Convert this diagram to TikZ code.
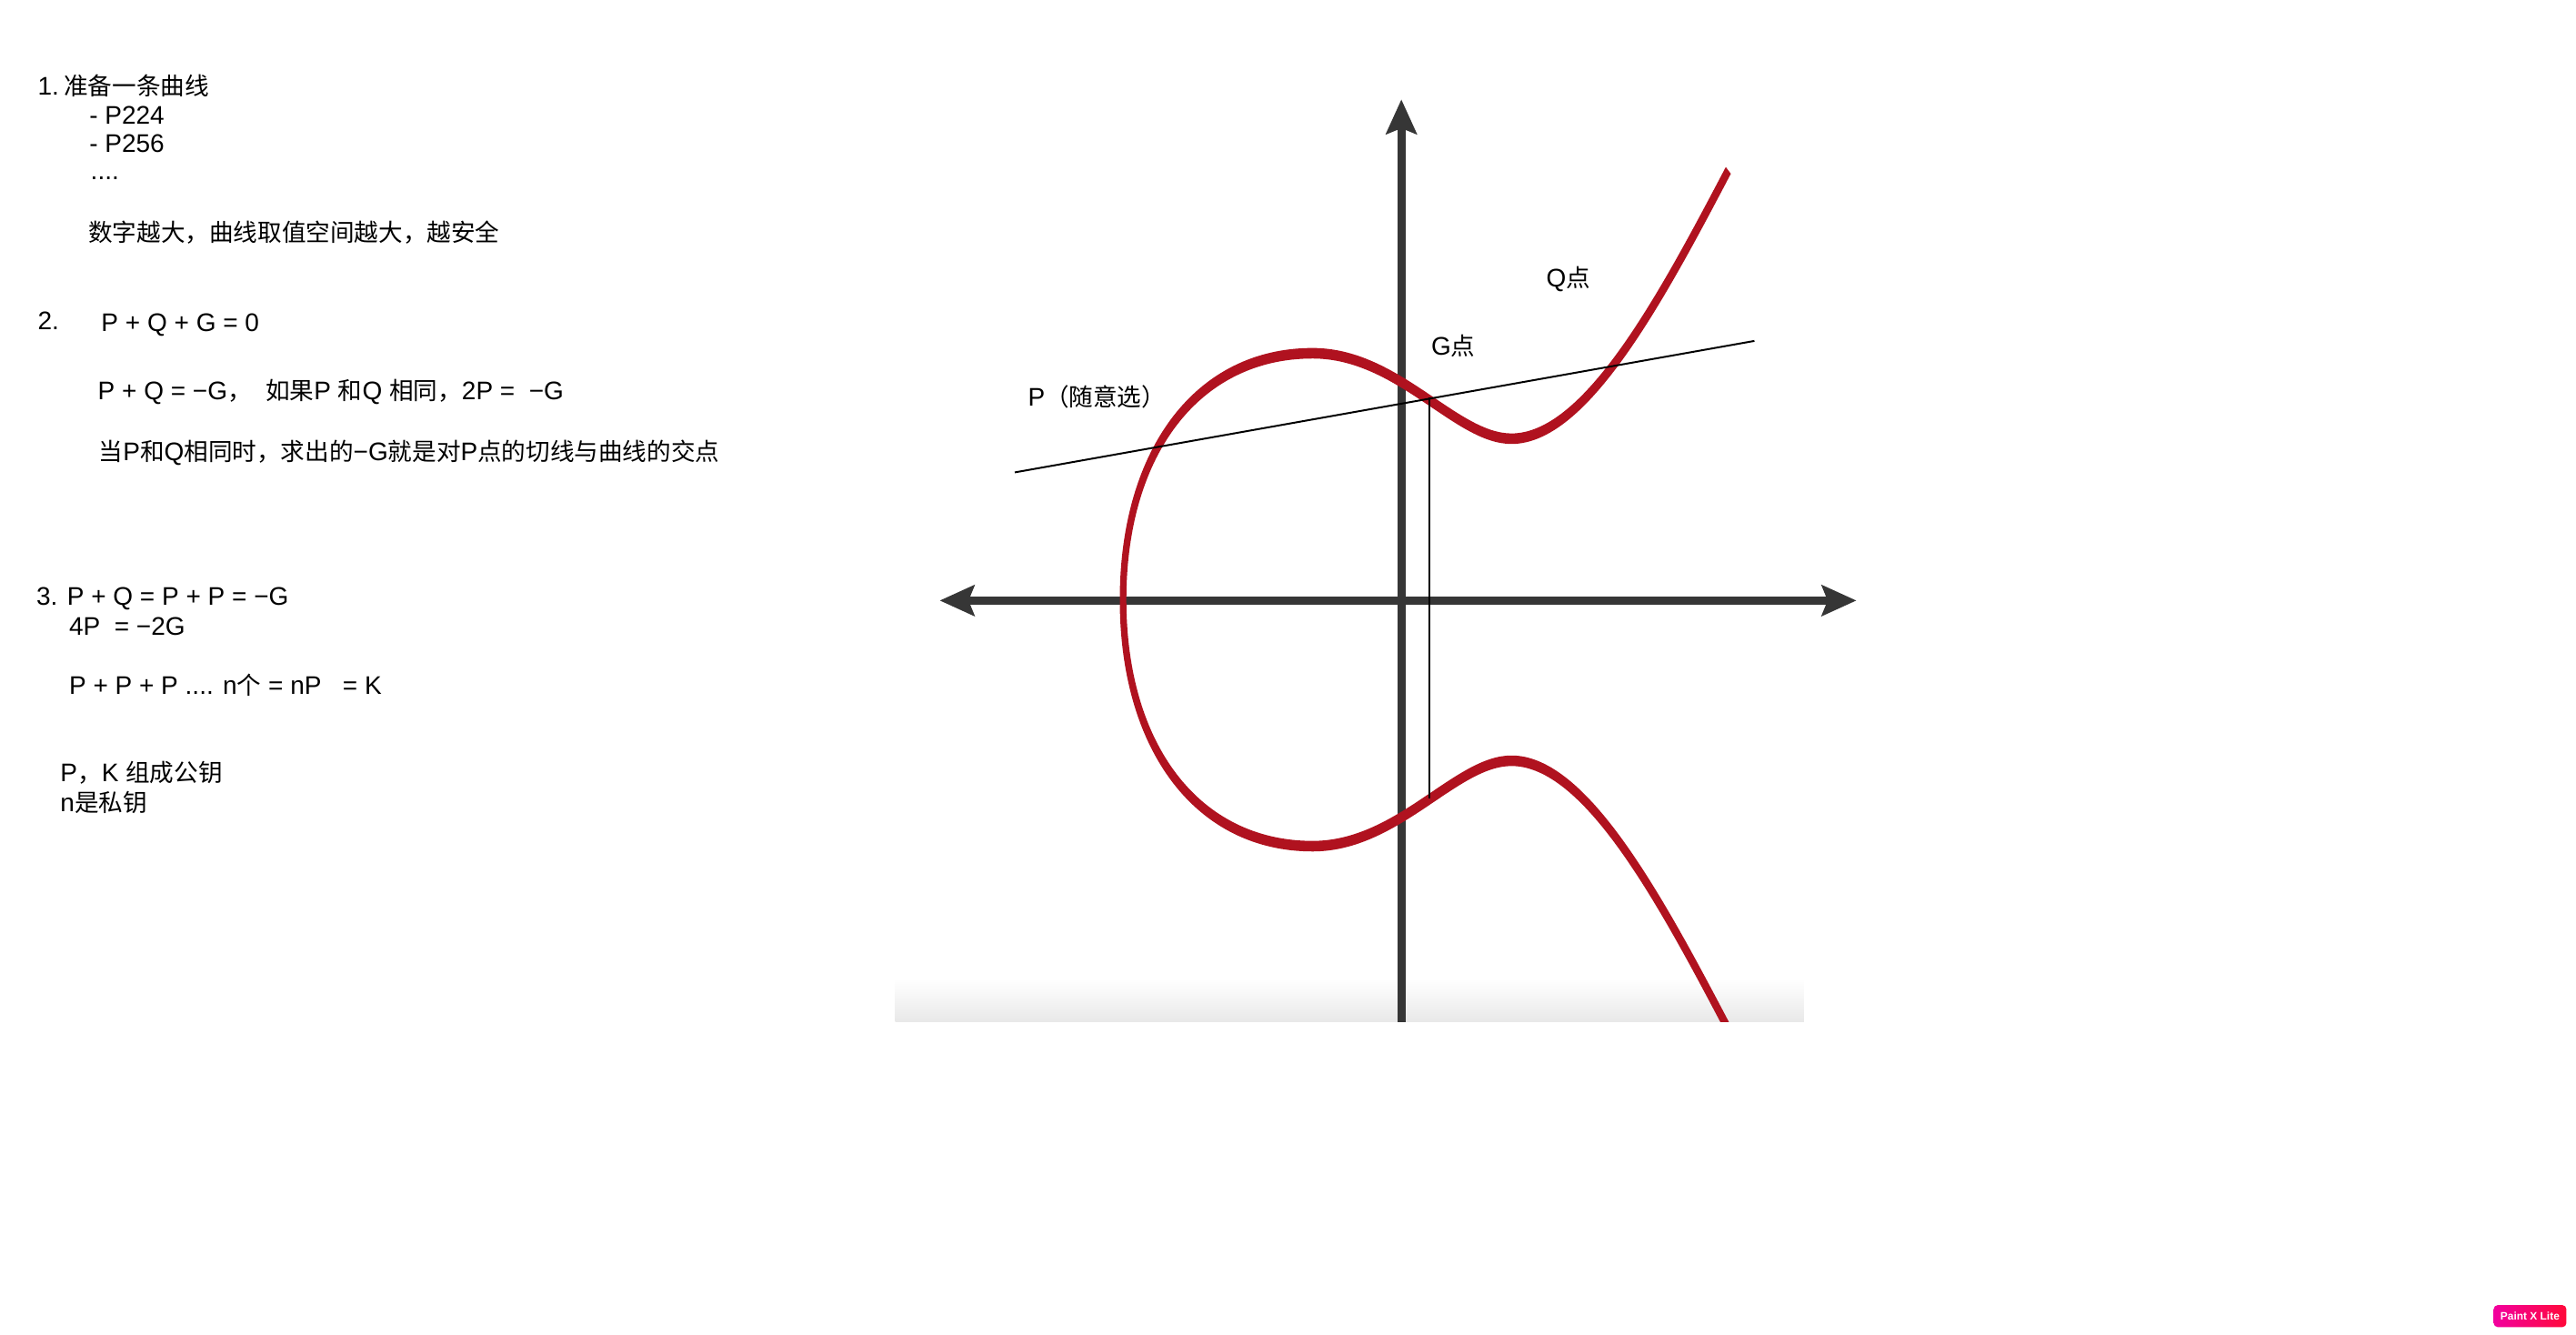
\documentclass[tikz,border=0pt]{standalone}
\usepackage{fontspec}
\setmainfont{Liberation Sans}
\newfontfamily\cjk[Scale=0.95]{Noto Sans CJK SC}
\usetikzlibrary{arrows.meta}
\newcommand\zh[1]{{\cjk #1}}
\definecolor{curvered}{HTML}{B0121F}
\definecolor{axisgray}{HTML}{363636}
\definecolor{badgel}{HTML}{F2009E}
\definecolor{badger}{HTML}{FF0A3A}
\begin{document}
\begin{tikzpicture}[x=1pt,y=-1pt,
  txt/.style={anchor=base west, inner sep=0pt, font=\fontsize{15.5}{18}\selectfont},
  axisline/.style={draw=axisgray, line width=5pt},
  axistip/.tip={Stealth[length=21pt, width=18.5pt, inset=3.5pt]},
  curvestyle/.style={draw=curvered, line width=4pt, line join=round},
  thinline/.style={draw=black, line width=1.1pt}]
\useasboundingbox[fill=white] (0,0) rectangle (1568,812.5);

% ---------- left column text ----------
\node[txt] (l1)  at (22.8,58.0)  {1.\hspace{3pt}\zh{准备一条曲线}};
\node[txt] (l2)  at (54.2,75.3)  {- P224};
\node[txt] (l3)  at (54.2,92.8)  {- P256};
\node[txt] (l4)  at (55.0,109.5) {....};
\node[txt] (l5)  at (53.6,146.8) {\zh{数字越大，曲线取值空间越大，越安全}};
\node[txt] (l6)  at (22.8,200.9) {2.};
\node[txt] (l7)  at (61.5,201.8) {P + Q + G = 0};
\node[txt] (l8)  at (59.4,243.5) {P + Q = −G\zh{，}\ \ \zh{如果}P \zh{和}Q \zh{相同，}2P =\ \ −G};
\node[txt] (l9)  at (60.0,280.2) {\zh{当}P\zh{和}Q\zh{相同时，求出的}−G\zh{就是对}P\zh{点的切线与曲线的交点}};
\node[txt] (l10) at (22.0,368.3) {3. P + Q = P + P = −G};
\node[txt] (l11) at (41.9,386.6) {4P\ \ = −2G};
\node[txt] (l12) at (41.9,422.8) {P + P + P .... n\zh{个} = nP\ \ \ = K};
\node[txt] (l13) at (36.6,475.9) {P\zh{，}K \zh{组成公钥}};
\node[txt] (l14) at (36.6,494.2) {n\zh{是私钥}};

% ---------- graph ----------
\shade[top color=white, bottom color=black!9] (545,596) rectangle (1098,622);

\coordinate (xl) at (572,365.5);
\coordinate (xr) at (1130,365.5);
\coordinate (yb) at (853,622);
\coordinate (yt) at (853,60.5);
\draw[axisline, axistip-axistip] (xl) -- (xr);
\draw[axisline, -axistip] (yb) -- (yt);

\begin{scope}
\clip (540,40) rectangle (1140,622);
\begin{scope}[transform canvas={yscale=1.6}]
\draw[curvestyle, yscale=0.625] (1052,626.3)
  .. controls (1010.2,546.6) and (965,463) .. (920,463)
  .. controls (886,463) and (851,515) .. (799,515)
  .. controls (729,515) and (683.6,455) .. (683.6,365)
  .. controls (683.6,275) and (729,215) .. (799,215)
  .. controls (851,215) and (886,267) .. (920,267)
  .. controls (965,267) and (1010.2,183.4) .. (1052,103.7);
\end{scope}
\end{scope}

\coordinate (tl) at (617.7,287.5);
\coordinate (tr) at (1067.9,207.5);
\draw[thinline] (tl) -- (tr);
\coordinate (vt) at (870,242);
\coordinate (vb) at (870,486);
\draw[draw=black, line width=0.7pt] (vt) -- (vb);

\node[txt] (qlab) at (941,174.9) {Q\zh{点}};
\node[txt] (glab) at (871,216.2) {G\zh{点}};
\node[txt] (plab) at (625.5,247.0) {P\zh{（随意选）}};

% ---------- badge ----------
\node[rounded corners=2.5pt, left color=badgel, right color=badger,
      minimum width=44.3pt, minimum height=13.4pt, inner sep=0pt,
      text=white, font=\bfseries\fontsize{6.6}{7}\selectfont] (badge) at (1540,801) {Paint X Lite};
\end{tikzpicture}
\end{document}
